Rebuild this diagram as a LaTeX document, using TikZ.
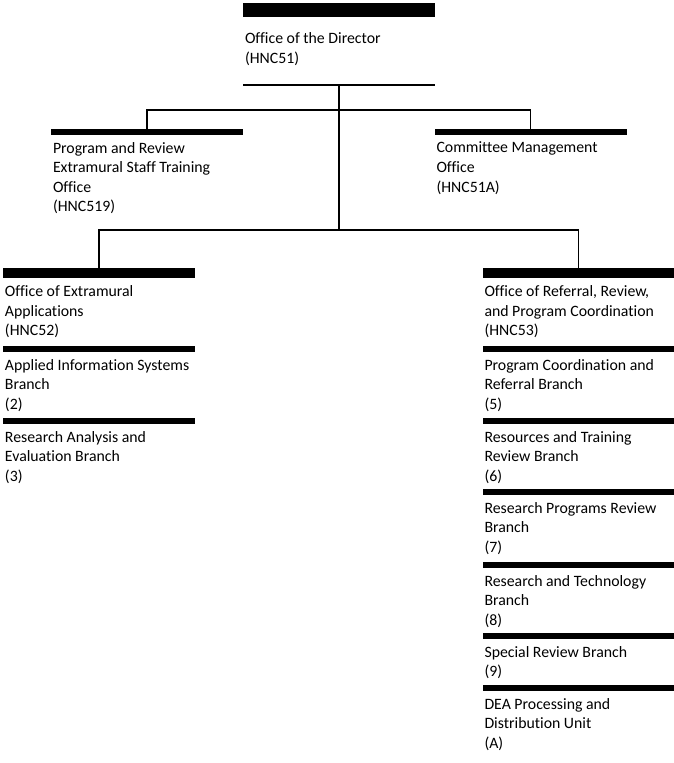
\documentclass[tikz,border=0pt]{standalone}
\usepackage{fontspec}
\setmainfont[Ligatures=NoCommon]{Carlito}
\usetikzlibrary{positioning}
\tikzset{
  every picture/.style={font=\fontsize{15.8}{19.6}\selectfont},
  bar/.style={fill=black,inner sep=0pt,minimum width=192pt,anchor=north},
  topbar/.style={bar,minimum height=14pt},
  headbar/.style={bar,minimum height=10pt},
  subbar/.style={bar,minimum height=5.5pt},
  rulebar/.style={bar,minimum height=1.3pt},
  unit/.style={anchor=north west,align=left,inner xsep=2pt,inner ysep=0pt,yshift=-7pt},
  link/.style={line width=1.1pt},
}

\begin{document}
\begin{tikzpicture}[x=1pt,y=-1pt]
  \path[use as bounding box] (0,0) rectangle (674,763);
  % director
  \node[topbar] (dirbar) at (339,3) {};
  \node[unit,yshift=-8pt] (dir) at (dirbar.south west) {Office of the Director\\(HNC51)};
  \node[rulebar] (dirrule) at (339,84) {};
  % second level
  \node[subbar] (prbar) at (147,129) {};
  \node[unit] (pr) at (prbar.south west)
    {Program and Review\\Extramural Staff Training\\Office\\(HNC519)};
  \node[subbar] (cmbar) at (530.5,129) {};
  \node[unit] (cm) at (cmbar.south west) {Committee Management\\Office\\(HNC51A)};
  % third level
  \node[headbar] (eabar) at (99,268) {};
  \node[unit] (ea) at (eabar.south west) {Office of Extramural\\Applications\\(HNC52)};
  \node[headbar] (orbar) at (578.5,268) {};
  \node[unit] (or) at (orbar.south west)
    {Office of Referral, Review,\\and Program Coordination\\(HNC53)};
  % branches
  \foreach \y/\n/\txt in {346/2/{Applied Information Systems\\Branch\\(2)},
      418/3/{Research Analysis and\\Evaluation Branch\\(3)}} {
    \node[subbar] (bar\n) at (99,\y) {};
    \node[unit] (unit\n) at (bar\n.south west) {\txt};
  }
  \foreach \y/\n/\txt in {346/5/{Program Coordination and\\Referral Branch\\(5)},
      418/6/{Resources and Training\\Review Branch\\(6)},
      489/7/{Research Programs Review\\Branch\\(7)},
      562/8/{Research and Technology\\Branch\\(8)},
      633/9/{Special Review Branch\\(9)},
      685/A/{DEA Processing and\\Distribution Unit\\(A)}} {
    \node[subbar] (bar\n) at (578.5,\y) {};
    \node[unit] (unit\n) at (bar\n.south west) {\txt};
  }
  % connectors
  \coordinate (j1) at (339,110);
  \coordinate (j2) at (339,230);
  \draw[link] (dirrule.south) -- (j1) -| (prbar.north);
  \draw[link] (j1) -| (cmbar.north);
  \draw[link] (j1) -- (j2) -| (eabar.north);
  \draw[link] (j2) -| (orbar.north);
\end{tikzpicture}
\end{document}
